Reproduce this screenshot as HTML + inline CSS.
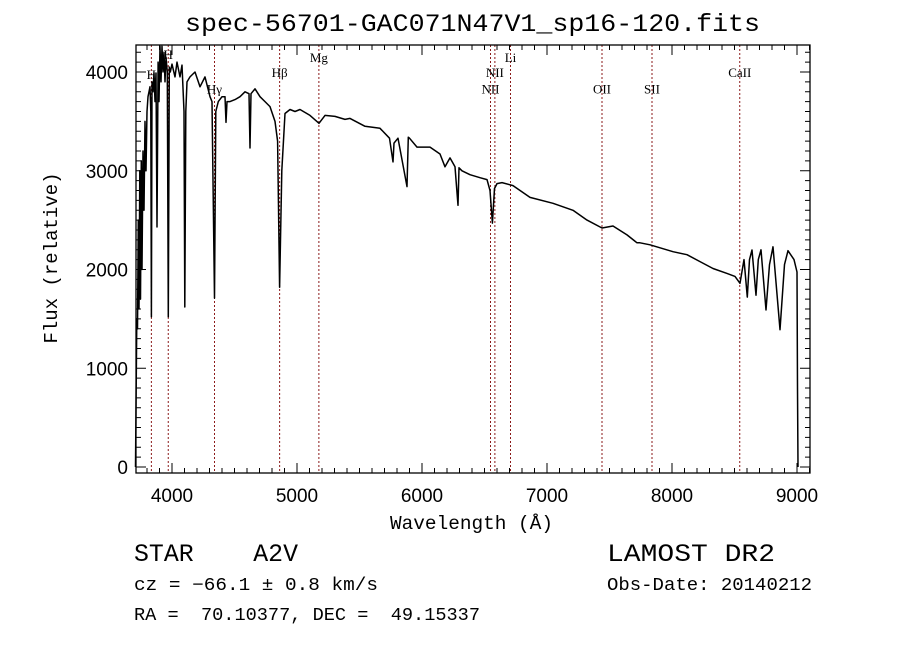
<!DOCTYPE html>
<html><head><meta charset="utf-8">
<style>
html,body{margin:0;padding:0;background:#fff;}
#wrap{position:relative;width:900px;height:649px;overflow:hidden;}
svg{position:absolute;left:0;top:0;}
.t{font-family:"Liberation Mono",monospace;fill:#000;white-space:pre;}
.lab{font-family:"Liberation Serif",serif;font-size:13px;fill:#000;}
</style></head>
<body>
<div id="wrap">
<svg id="chart" width="900" height="649" xml:space="preserve">
<text class="t" x="185" y="31" font-size="25" textLength="575" lengthAdjust="spacingAndGlyphs">spec-56701-GAC071N47V1_sp16-120.fits</text>
<text class="t" x="390" y="529" font-size="19" textLength="163" lengthAdjust="spacingAndGlyphs">Wavelength (Å)</text>
<text class="t" x="0" y="0" text-anchor="middle" font-size="19" transform="translate(57,258) rotate(-90)">Flux (relative)</text>
<text class="t" x="134" y="561" font-size="25" textLength="164" lengthAdjust="spacingAndGlyphs">STAR    A2V</text>
<text class="t" x="134" y="590" font-size="18" textLength="244" lengthAdjust="spacingAndGlyphs">cz = −66.1 ± 0.8 km/s</text>
<text class="t" x="134" y="620" font-size="18" textLength="346" lengthAdjust="spacingAndGlyphs">RA =  70.10377, DEC =  49.15337</text>
<text class="t" x="607" y="561" font-size="25" textLength="168" lengthAdjust="spacingAndGlyphs">LAMOST DR2</text>
<text class="t" x="607" y="590" font-size="18" textLength="205" lengthAdjust="spacingAndGlyphs">Obs-Date: 20140212</text>
</svg>
</div>
<script>
const wavelengths=[3708,3712,3718,3724,3730,3736,3742,3748,3754,3760,3768,3776,3784,3792,3800,3808,3816,3824,3830,3835,3840,3848,3856,3864,3872,3880,3889,3896,3904,3912,3920,3928,3936,3944,3952,3962,3970,3978,3986,4000,4024,4040,4064,4080,4096,4102,4110,4120,4144,4184,4224,4264,4304,4320,4340,4350,4370,4400,4424,4432,4440,4464,4504,4544,4584,4616,4624,4632,4664,4704,4744,4784,4824,4845,4861,4878,4904,4944,4984,5024,5104,5176,5224,5304,5384,5424,5544,5664,5740,5768,5776,5808,5880,5890,5900,5960,6064,6144,6184,6224,6264,6288,6296,6320,6384,6464,6520,6544,6563,6580,6600,6640,6728,6864,7048,7208,7320,7440,7528,7640,7720,7744,7824,8008,8120,8224,8328,8440,8504,8544,8576,8602,8620,8640,8672,8690,8712,8752,8780,8808,8864,8900,8928,8976,9000,9004,9008];
const fluxes=[0,600,1500,1400,2500,1600,3000,1700,3100,2000,3200,2600,3500,3000,3600,3750,3800,3850,3600,1520,3900,3800,3990,3700,3990,2430,4100,3700,4260,3900,4260,4000,4200,3900,4150,4000,1520,4050,4000,4080,3950,4100,3950,4070,3600,1620,3600,3900,3950,4000,3850,3950,3750,3700,1710,3600,3700,3750,3750,3490,3700,3700,3720,3750,3800,3780,3230,3780,3830,3750,3700,3650,3500,3300,1820,3000,3580,3620,3600,3620,3560,3480,3560,3550,3520,3530,3450,3430,3330,3090,3280,3330,2840,3340,3330,3240,3240,3170,3040,3130,3040,2650,3030,3000,2960,2930,2910,2800,2470,2820,2870,2880,2850,2730,2670,2600,2500,2420,2440,2350,2270,2270,2250,2180,2150,2080,2010,1960,1930,1860,2100,1720,2100,2197,1740,2100,2200,1590,2050,2230,1390,2050,2190,2100,1975,800,0];
const lineWaves=[3835,3970,4340,4861,5175,6548,6583,6708,7440,7840,8542];
const lineNames=["H","H","Hγ","Hβ","Mg","NII","NII","Li","OII","SII","CaII"];
const lineLabelFlux=[3930,4130,3780,3950,4100,3780,3950,4100,3780,3780,3950];
const xTicks=[4000,5000,6000,7000,8000,9000];
const yTicks=[0,1000,2000,3000,4000];

const X0=136,X1=810,Y0=45,Y1=473;
const xs=l=>172+(l-4000)*0.125;
const ys=f=>467-f*0.09875;
const svg=document.getElementById('chart');
const NS='http://www.w3.org/2000/svg';
function mk(tag,attrs){const e=document.createElementNS(NS,tag);for(const k in attrs)e.setAttribute(k,attrs[k]);svg.appendChild(e);return e;}

lineWaves.forEach((w,i)=>{
  const l=mk('line',{x1:xs(w),x2:xs(w),y1:Y0,y2:Y1,stroke:'#8b1a1a','stroke-width':1,'stroke-dasharray':'2,2'});
  
  
  const t=mk('text',{x:xs(w),y:ys(lineLabelFlux[i]),'text-anchor':'middle',class:'lab'});
  t.textContent=lineNames[i];
  
  
});

let d='';
wavelengths.forEach((w,i)=>{d+=(i?'L':'M')+xs(w).toFixed(1)+','+ys(fluxes[i]).toFixed(1);});
const p=mk('path',{d:d,fill:'none',stroke:'#000','stroke-width':1.5,'stroke-linejoin':'round'});



const fr=mk('rect',{x:X0,y:Y0,width:X1-X0,height:Y1-Y0,fill:'none',stroke:'#000','stroke-width':1.3});



for(let w=3800;w<=9100;w+=100){
  const x=xs(w); if(x<X0||x>X1)continue;
  const major=w%1000===0, len=major?10:5;
  mk('line',{x1:x,x2:x,y1:Y1,y2:Y1-len,stroke:'#000'});
  mk('line',{x1:x,x2:x,y1:Y0,y2:Y0+len,stroke:'#000'});
}
xTicks.forEach(w=>{
  const t=mk('text',{x:xs(w),y:Y1+29,'text-anchor':'middle','font-family':'Liberation Sans, sans-serif','font-size':19});
  t.textContent=w;
  
  
});
for(let f=0;f<=4200;f+=100){
  const y=ys(f); if(y<Y0||y>Y1)continue;
  const len=f%1000===0?10:5;
  mk('line',{x1:X0,x2:X0+len,y1:y,y2:y,stroke:'#000'});
  mk('line',{x1:X1,x2:X1-len,y1:y,y2:y,stroke:'#000'});
}
yTicks.forEach(f=>{
  const t=mk('text',{x:128,y:ys(f)+7,'text-anchor':'end','font-family':'Liberation Sans, sans-serif','font-size':19});
  t.textContent=f;
  
  
});
</script>
</body></html>
